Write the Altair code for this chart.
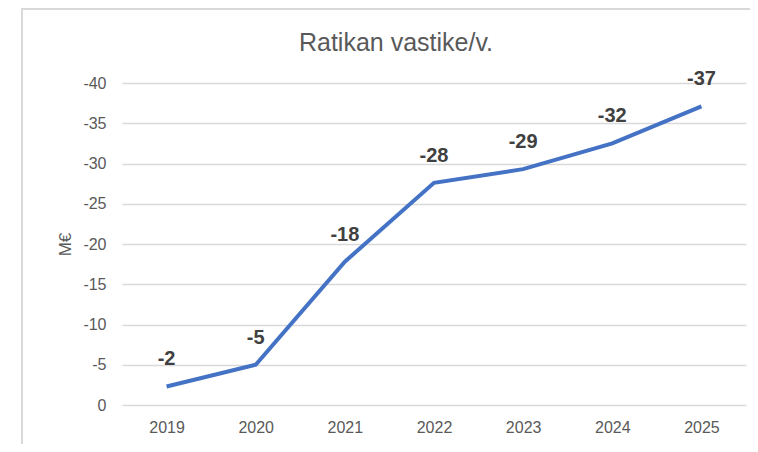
import altair as alt
import pandas as pd

years = ["2019", "2020", "2021", "2022", "2023", "2024", "2025"]
values = [-2.3, -5.0, -17.8, -27.6, -29.3, -32.5, -37.1]
labels = ["-2", "-5", "-18", "-28", "-29", "-32", "-37"]
y_ticks = [0, -5, -10, -15, -20, -25, -30, -35, -40]
chart_title = ["Ratikan vastike/v."]

df = pd.DataFrame({"year": years, "value": values, "label": labels})
tdf = pd.DataFrame({"t": chart_title})

FONT = "Liberation Sans"
GREY = "#595959"

x_enc = alt.X("year:N", sort=years, title=None,
              scale=alt.Scale(paddingInner=0, paddingOuter=0.5),
              axis=alt.Axis(labelAngle=0, labelFontSize=16, labelColor=GREY,
                            labelFont=FONT, labelPadding=14, ticks=False,
                            domain=False, grid=False))
y_enc = alt.Y("value:Q", title="M€",
              scale=alt.Scale(domain=[-40, 0], reverse=True, nice=False),
              axis=alt.Axis(values=y_ticks, labelFontSize=16, labelColor=GREY,
                            labelFont=FONT, labelPadding=16, ticks=False,
                            labelExpr="'' + datum.value",
                            domain=False, gridColor="#d9d9d9", gridWidth=1.3,
                            titleFont=FONT, titleFontSize=17, titleColor=GREY,
                            titleFontWeight="normal", titlePadding=8))

border = alt.Chart(tdf).mark_rect(fill=None, stroke="#d9d9d9", strokeWidth=2).encode(
    x=alt.value(-100), x2=alt.value(2000), y=alt.value(-74), y2=alt.value(2000)
)

title = alt.Chart(tdf).mark_text(font=FONT, fontSize=25, color=GREY,
                                 baseline="middle", align="center").encode(
    x=alt.value(274), y=alt.value(-40), text="t:N"
)

line = alt.Chart(df).mark_line(color="#4472C4", strokeWidth=4).encode(
    x=x_enc, y=y_enc
)

text = alt.Chart(df).mark_text(font=FONT, fontSize=20, fontWeight="bold",
                               color="#404040", baseline="middle", dy=-27).encode(
    x=alt.X("year:N", sort=years), y=alt.Y("value:Q"), text="label:N"
)

chart = alt.layer(border, title, line, text).properties(
    width=624, height=322,
    autosize=alt.AutoSizeParams(type="none"),
    padding={"left": 114, "top": 75, "right": 4, "bottom": 39},
    background="white",
).configure_view(stroke=None)

chart.save("out.html", embed_options={"renderer": "svg", "actions": False})
